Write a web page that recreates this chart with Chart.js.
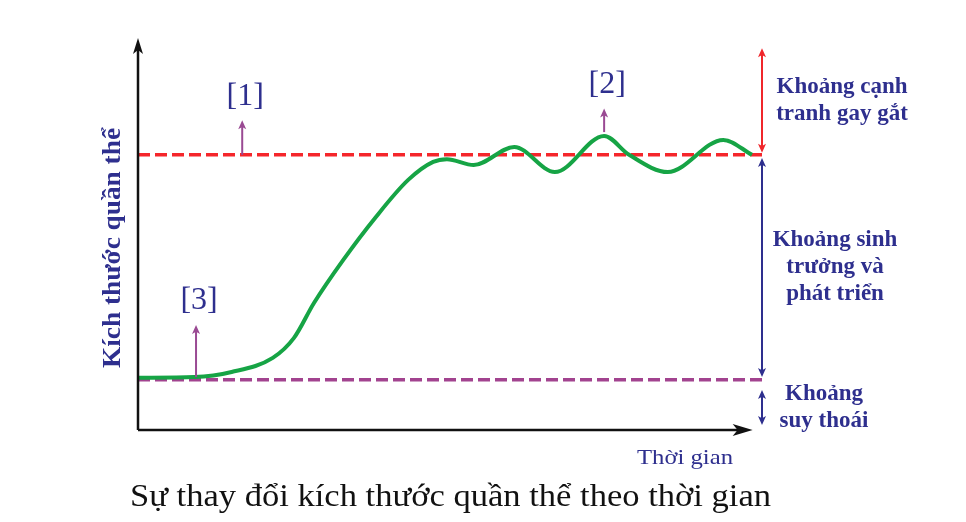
<!DOCTYPE html>
<html lang="vi">
<head>
<meta charset="utf-8">
<title>Sự thay đổi kích thước quần thể theo thời gian</title>
<script src="https://cdn.jsdelivr.net/npm/chart.js@4.4.1/dist/chart.umd.min.js"></script>
<style>
  html, body { margin: 0; padding: 0; background: #fff; }
  #chart { display: block; }
</style>
</head>
<body>
<canvas id="chart" width="966" height="522"></canvas>
<script>
// time and population size, both on an arbitrary 0..100 scale
const timePoints = [0, 9, 15, 21.6, 25, 28.2, 32.9, 38, 43.3, 47.3, 49.5, 53.8, 60.3, 66.8, 74.7, 78.7, 84.9, 93.8, 98.4];
const populationSize = [13.3, 13.5, 14.8, 18.4, 23.5, 32.4, 43.4, 54.1, 63.8, 68.4, 69.1, 67.6, 72.2, 65.8, 75, 70.2, 65.8, 74, 70.2];

const capacityLevel = 70.2;   // red dashed line
const minimumLevel = 12.8;    // purple dashed line
const xAxisEnd = 98.5;
const yAxisEnd = 100;

// markers [1] [2] [3]
const markerLabels = ['[1]', '[2]', '[3]'];
const markerTime = [16.7, 74.7, 9.3];
const markerFrom = [70.2, 76, 13.5];
const markerTo = [79, 82, 26.8];

// zones on the right side
const zoneNames = [
    ['Khoảng cạnh', 'tranh gay gắt'],
    ['Khoảng sinh', 'trưởng và', 'phát triển'],
    ['Khoảng', 'suy thoái']
];
const zoneFrom = [70.7, 13.5, 1.3];
const zoneTo = [97.4, 69.4, 10.2];

const xTitle = 'Thời gian';
const yTitle = 'Kích thước quần thể';
const mainTitle = 'Sự thay đổi kích thước quần thể theo thời gian';

const serif = '"Liberation Serif", "Times New Roman", serif';
const navy = '#2e2f8e';

function arrowHead(ctx, x, y, angle, len, half, color) {
    ctx.save();
    ctx.translate(x, y);
    ctx.rotate(angle);
    ctx.fillStyle = color;
    ctx.beginPath();
    ctx.moveTo(0, 0);
    ctx.lineTo(-len, -half);
    ctx.lineTo(-len * 0.75, 0);
    ctx.lineTo(-len, half);
    ctx.closePath();
    ctx.fill();
    ctx.restore();
}

// draws text stretched to a given width
function fitText(ctx, text, x, y, width) {
    const w = ctx.measureText(text).width;
    ctx.save();
    ctx.translate(x, y);
    ctx.scale(width / w, 1);
    ctx.fillText(text, 0, 0);
    ctx.restore();
}

const drawingPlugin = {
    id: 'drawing',
    afterDatasetsDraw(chart) {
        const ctx = chart.ctx;
        const xs = chart.scales.x, ys = chart.scales.y;
        const x0 = xs.getPixelForValue(0), y0 = ys.getPixelForValue(0);

        // axes
        ctx.save();
        ctx.strokeStyle = '#111';
        ctx.lineWidth = 2.5;
        const xEnd = xs.getPixelForValue(xAxisEnd);
        const yEnd = ys.getPixelForValue(yAxisEnd);
        ctx.beginPath();
        ctx.moveTo(x0, y0);
        ctx.lineTo(xEnd - 10, y0);
        ctx.moveTo(x0, y0);
        ctx.lineTo(x0, yEnd + 10);
        ctx.stroke();
        arrowHead(ctx, xEnd, y0, 0, 20, 6, '#111');
        arrowHead(ctx, x0, yEnd, -Math.PI / 2, 16, 5, '#111');
        ctx.restore();

        // marker arrows and labels
        ctx.save();
        ctx.strokeStyle = '#9a4a93';
        ctx.lineWidth = 2;
        ctx.fillStyle = navy;
        ctx.font = '32px ' + serif;
        ctx.textAlign = 'center';
        ctx.textBaseline = 'middle';
        markerLabels.forEach((label, i) => {
            const px = xs.getPixelForValue(markerTime[i]);
            const pFrom = ys.getPixelForValue(markerFrom[i]);
            const pTo = ys.getPixelForValue(markerTo[i]);
            ctx.beginPath();
            ctx.moveTo(px, pFrom);
            ctx.lineTo(px, pTo + 6);
            ctx.stroke();
            arrowHead(ctx, px, pTo, -Math.PI / 2, 9, 4, '#9a4a93');
            ctx.fillText(label, px + 3, pTo - 24);
        });
        ctx.restore();

        // zone brackets
        const bx = xs.getPixelForValue(100);
        const zoneColors = ['#f0262b', '#2e2f8e', '#2e2f8e'];
        const labelX = [842, 835, 824];
        ctx.save();
        ctx.lineWidth = 2;
        ctx.font = 'bold 23px ' + serif;
        ctx.textAlign = 'center';
        ctx.textBaseline = 'middle';
        zoneNames.forEach((lines, i) => {
            const top = ys.getPixelForValue(zoneTo[i]);
            const bot = ys.getPixelForValue(zoneFrom[i]);
            ctx.strokeStyle = zoneColors[i];
            ctx.beginPath();
            ctx.moveTo(bx, top + 6);
            ctx.lineTo(bx, bot - 6);
            ctx.stroke();
            arrowHead(ctx, bx, top, -Math.PI / 2, 9, 4, zoneColors[i]);
            arrowHead(ctx, bx, bot, Math.PI / 2, 9, 4, zoneColors[i]);
            ctx.fillStyle = navy;
            const mid = (top + bot) / 2;
            const step = 27;
            lines.forEach((line, j) => {
                ctx.fillText(line, labelX[i], mid + (j - (lines.length - 1) / 2) * step);
            });
        });
        ctx.restore();

        // titles
        ctx.save();
        ctx.fillStyle = navy;
        ctx.textAlign = 'left';
        ctx.textBaseline = 'alphabetic';
        ctx.font = '22px ' + serif;
        fitText(ctx, xTitle, 637, 464, 96);

        ctx.font = 'bold 25px ' + serif;
        ctx.translate(120, 368);
        ctx.rotate(-Math.PI / 2);
        fitText(ctx, yTitle, 0, 0, 240);
        ctx.restore();

        ctx.save();
        ctx.fillStyle = '#111';
        ctx.font = '31px ' + serif;
        ctx.textAlign = 'left';
        ctx.textBaseline = 'alphabetic';
        fitText(ctx, mainTitle, 130, 506, 641);
        ctx.restore();
    }
};

const curvePoints = timePoints.map((t, i) => ({ x: t, y: populationSize[i] }));

new Chart(document.getElementById('chart'), {
    type: 'line',
    data: {
        datasets: [
            {
                label: 'Kích thước quần thể',
                data: curvePoints,
                borderColor: '#16a445',
                borderWidth: 4,
                cubicInterpolationMode: 'monotone',
                pointRadius: 0,
                fill: false,
                order: 0
            },
            {
                label: 'capacity',
                data: [{ x: 0, y: capacityLevel }, { x: 100, y: capacityLevel }],
                borderColor: '#f5262b',
                borderWidth: 3.5,
                borderDash: [12, 5],
                pointRadius: 0,
                order: 1
            },
            {
                label: 'minimum',
                data: [{ x: 0, y: minimumLevel }, { x: 100, y: minimumLevel }],
                borderColor: '#a2438f',
                borderWidth: 3.5,
                borderDash: [12, 5],
                pointRadius: 0,
                order: 1
            }
        ]
    },
    options: {
        responsive: false,
        animation: false,
        devicePixelRatio: 1,
        layout: { padding: { left: 138, right: 204, top: 38, bottom: 92 } },
        clip: false,
        scales: {
            x: { type: 'linear', min: 0, max: 100, display: false },
            y: { type: 'linear', min: 0, max: 100, display: false }
        },
        plugins: {
            legend: { display: false },
            tooltip: { enabled: false },
            title: { display: false }
        }
    },
    plugins: [drawingPlugin]
});
</script>
</body>
</html>
